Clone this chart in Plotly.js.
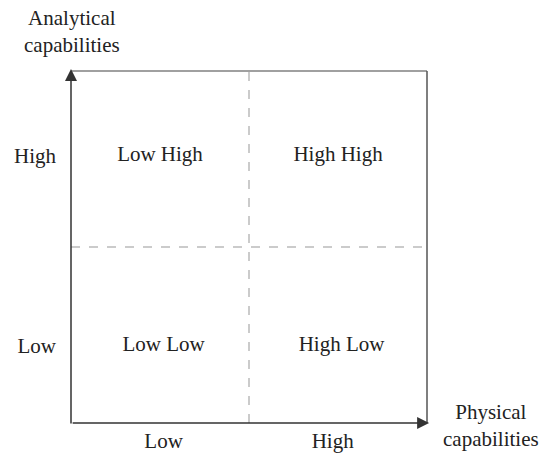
<!DOCTYPE html>
<html>
<head>
<meta charset="utf-8">
<script src="https://cdn.plot.ly/plotly-3.0.1.min.js"></script>
<style>html,body{margin:0;padding:0;background:#fff;}#chart{width:540px;height:453px;}</style>
</head>
<body>
<div id="chart"></div>
<script>
// Data
const xCategories = ["Low", "High"];
const yCategories = ["Low", "High"];
const xTickVals = [0.52, 1.47];
const yTickVals = [0.44, 1.52];
const quadrantLabels = ["Low High", "High High", "Low Low", "High Low"];
const quadrantX = [0.5, 1.5, 0.52, 1.52];
const quadrantY = [1.52, 1.52, 0.44, 0.44];
const xAxisLabel = "Physical<br>capabilities";
const yAxisLabel = "Analytical<br>capabilities";

const FONT = "Liberation Serif";
const TXT = "#222";

const trace = {
  type: "scatter",
  mode: "text",
  x: quadrantX,
  y: quadrantY,
  text: quadrantLabels,
  textposition: "middle center",
  textfont: {family: FONT, size: 21, color: TXT},
  hoverinfo: "skip",
  showlegend: false
};

const layout = {
  width: 540,
  height: 453,
  margin: {l: 71, r: 113, t: 71, b: 30, pad: 0},
  paper_bgcolor: "#fff",
  plot_bgcolor: "#fff",
  showlegend: false,
  font: {family: FONT, size: 21, color: TXT},
  xaxis: {
    range: [0, 2], showgrid: false, zeroline: false, showline: false,
    tickvals: xTickVals, ticktext: xCategories, ticks: "",
    ticklabelstandoff: 3, fixedrange: true,
    tickfont: {family: FONT, size: 21, color: TXT}
  },
  yaxis: {
    range: [0, 2], showgrid: false, zeroline: false, showline: false,
    tickvals: yTickVals, ticktext: yCategories, ticks: "",
    ticklabelstandoff: 14, fixedrange: true,
    tickfont: {family: FONT, size: 21, color: TXT}
  },
  shapes: [
    {type: "line", xref: "x", yref: "y", x0: 1, x1: 1, y0: 0, y1: 2,
     line: {color: "#bbbbbb", width: 1.5, dash: "dash"}},
    {type: "line", xref: "x", yref: "y", x0: 0, x1: 2, y0: 1, y1: 1,
     line: {color: "#bbbbbb", width: 1.5, dash: "dash"}},
    {type: "line", xref: "paper", yref: "paper", x0: 0, x1: 1, y0: 1, y1: 1,
     line: {color: "#808080", width: 1.5}},
    {type: "line", xref: "paper", yref: "paper", x0: 1, x1: 1, y0: 0, y1: 1,
     line: {color: "#555555", width: 1.5}}
  ],
  annotations: [
    {xref: "paper", yref: "paper", x: 0, y: 1.006, ax: 0, ay: 356,
     text: "", showarrow: true, arrowhead: 2, arrowsize: 1.6, arrowwidth: 1.5, arrowcolor: "#333"},
    {xref: "paper", yref: "paper", x: 1.006, y: 0, ax: -358, ay: 0,
     text: "", showarrow: true, arrowhead: 2, arrowsize: 1.6, arrowwidth: 1.5, arrowcolor: "#333"},
    {xref: "paper", yref: "paper", x: 0.003, y: 1.19, xanchor: "center", yanchor: "top",
     text: yAxisLabel, showarrow: false, font: {family: FONT, size: 21, color: TXT}},
    {xref: "paper", yref: "paper", x: 1.18, y: 0.07, xanchor: "center", yanchor: "top",
     text: xAxisLabel, showarrow: false, font: {family: FONT, size: 21, color: TXT}}
  ]
};

Plotly.newPlot("chart", [trace], layout, {displayModeBar: false, staticPlot: true});
</script>
</body>
</html>
